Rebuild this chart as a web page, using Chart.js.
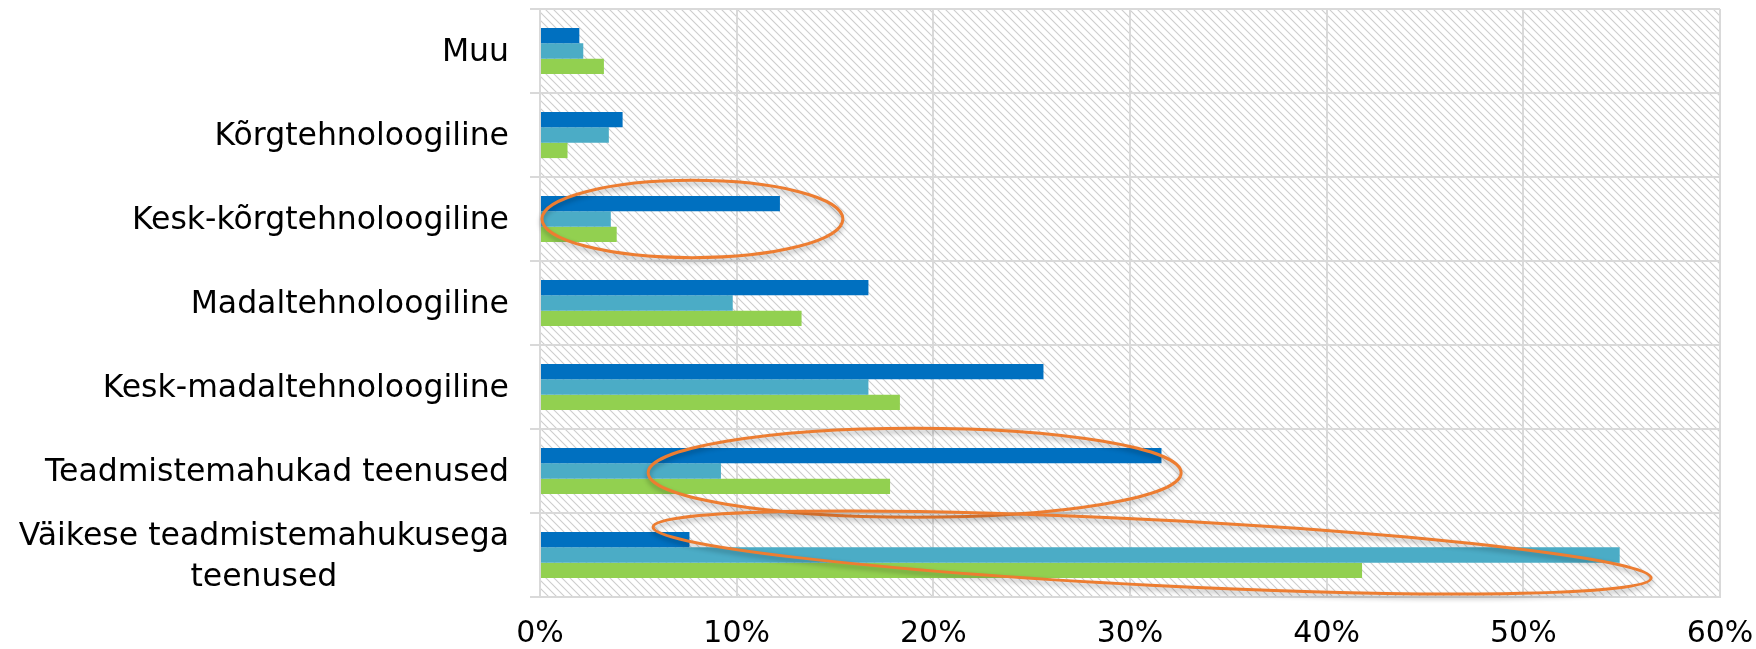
<!DOCTYPE html>
<html>
<head>
<meta charset="utf-8">
<script src="https://cdn.jsdelivr.net/npm/chart.js@4/dist/chart.umd.min.js"></script>
<style>
  body { margin: 0; background: #fff; }
  #wrap { width: 1756px; height: 649px; }
</style>
</head>
<body>
<div id="wrap"><canvas id="myChart"></canvas></div>
<script>
const categories = [
  'Muu',
  'Kõrgtehnoloogiline',
  'Kesk-kõrgtehnoloogiline',
  'Madaltehnoloogiline',
  'Kesk-madaltehnoloogiline',
  'Teadmistemahukad teenused',
  ['Väikese teadmistemahukusega', 'teenused']
];
const seriesA = [2.0, 4.2, 12.2, 16.7, 25.6, 31.6, 7.6];
const seriesB = [2.2, 3.5, 3.6, 9.8, 16.7, 9.2, 54.9];
const seriesC = [3.25, 1.4, 3.9, 13.3, 18.3, 17.8, 41.8];
const xTicks = [0, 10, 20, 30, 40, 50, 60];

// orange ellipses: ends given as [percent, category position], b as part of a band
const ellipses = [
  { p1: [0.1, 2.0], p2: [15.4, 2.0], b: 0.46 },
  { p1: [5.5, 5.02], p2: [32.6, 5.02], b: 0.53 },
  { p1: [5.75, 5.667], p2: [56.5, 6.274], b: 0.39 }
];

const labelFont = '31.5px "DejaVu Sans"';
const labelLine = 41;

function hatch() {
  const c = document.createElement('canvas');
  c.width = 8;
  c.height = 8;
  const g = c.getContext('2d');
  g.fillStyle = '#fff';
  g.fillRect(0, 0, 8, 8);
  g.strokeStyle = '#cdcdcd';
  g.lineWidth = 1.1;
  g.beginPath();
  g.moveTo(-1, -1); g.lineTo(9, 9);
  g.moveTo(-1, 7); g.lineTo(1, 9);
  g.moveTo(7, -1); g.lineTo(9, 1);
  g.stroke();
  return g.createPattern(c, 'repeat');
}

const bgPlugin = {
  id: 'bg',
  beforeDraw(chart) {
    const a = chart.chartArea;
    const ctx = chart.ctx;
    ctx.save();
    ctx.fillStyle = hatch();
    ctx.fillRect(a.left, a.top, a.right - a.left, a.bottom - a.top);
    ctx.restore();
  }
};

// category labels: right aligned, lines of a wrapped label centred on each other
const labelPlugin = {
  id: 'catLabels',
  afterDraw(chart) {
    const ys = chart.scales.y;
    const ctx = chart.ctx;
    const right = ys.right - 10 - 21;
    ctx.save();
    ctx.font = labelFont;
    ctx.fillStyle = '#000';
    ctx.textAlign = 'right';
    ctx.textBaseline = 'middle';
    categories.forEach((lab, i) => {
      const lines = Array.isArray(lab) ? lab : [lab];
      const widths = lines.map(l => ctx.measureText(l).width);
      const maxW = Math.max(...widths);
      const y = ys.getPixelForTick(i) + 2;
      lines.forEach((l, j) => {
        const ly = y + (j - (lines.length - 1) / 2) * labelLine;
        ctx.fillText(l, right - (maxW - widths[j]) / 2, ly);
      });
    });
    ctx.restore();
  }
};

const ellipsePlugin = {
  id: 'ell',
  afterDatasetsDraw(chart) {
    const xs = chart.scales.x;
    const ys = chart.scales.y;
    const band = ys.height / categories.length;
    const ctx = chart.ctx;
    ctx.save();
    ctx.strokeStyle = '#ED7D31';
    ctx.lineWidth = 3;
    ctx.shadowColor = 'rgba(0,0,0,0.3)';
    ctx.shadowBlur = 5;
    ctx.shadowOffsetY = 3;
    ellipses.forEach(e => {
      const x1 = xs.getPixelForValue(e.p1[0]);
      const y1 = ys.getPixelForValue(e.p1[1]);
      const x2 = xs.getPixelForValue(e.p2[0]);
      const y2 = ys.getPixelForValue(e.p2[1]);
      const cx = (x1 + x2) / 2, cy = (y1 + y2) / 2;
      const a = Math.hypot(x2 - x1, y2 - y1) / 2;
      const ang = Math.atan2(y2 - y1, x2 - x1);
      ctx.beginPath();
      ctx.ellipse(cx, cy, a, e.b * band, ang, 0, Math.PI * 2);
      ctx.stroke();
    });
    ctx.restore();
  }
};

const ctx = document.getElementById('myChart');

new Chart(ctx, {
  type: 'bar',
  data: {
    labels: categories,
    datasets: [
      { data: seriesA, backgroundColor: '#0070C0' },
      { data: seriesB, backgroundColor: '#4BACC6' },
      { data: seriesC, backgroundColor: '#92D050' }
    ]
  },
  options: {
    indexAxis: 'y',
    responsive: true,
    maintainAspectRatio: false,
    devicePixelRatio: 1,
    animation: false,
    categoryPercentage: 0.55,
    barPercentage: 1,
    layout: { padding: { top: 9, right: 36, left: 0, bottom: 0 } },
    plugins: { legend: { display: false }, tooltip: { enabled: false } },
    scales: {
      x: {
        min: 0,
        max: 60,
        afterBuildTicks(s) { s.ticks = xTicks.map(v => ({ value: v })); },
        afterFit(s) { s.height = 52; s.paddingLeft = 0; s.paddingRight = 0; },
        grid: { color: '#d9d9d9', lineWidth: 2, drawTicks: false },
        border: { color: '#d9d9d9', width: 2 },
        ticks: {
          padding: 19,
          color: '#000',
          font: { family: 'DejaVu Sans', size: 30 },
          callback: v => v + '%'
        }
      },
      y: {
        afterFit(s) { s.width = 540; s.paddingTop = 0; s.paddingBottom = 0; },
        grid: { color: '#d9d9d9', lineWidth: 2, tickLength: 10, tickColor: '#d9d9d9' },
        border: { color: '#d9d9d9', width: 2 },
        ticks: {
          autoSkip: false,
          padding: 21,
          color: 'rgba(0,0,0,0)',
          font: { family: 'DejaVu Sans', size: 32, lineHeight: 1.22 }
        }
      }
    }
  },
  plugins: [bgPlugin, ellipsePlugin, labelPlugin]
});
</script>
</body>
</html>
